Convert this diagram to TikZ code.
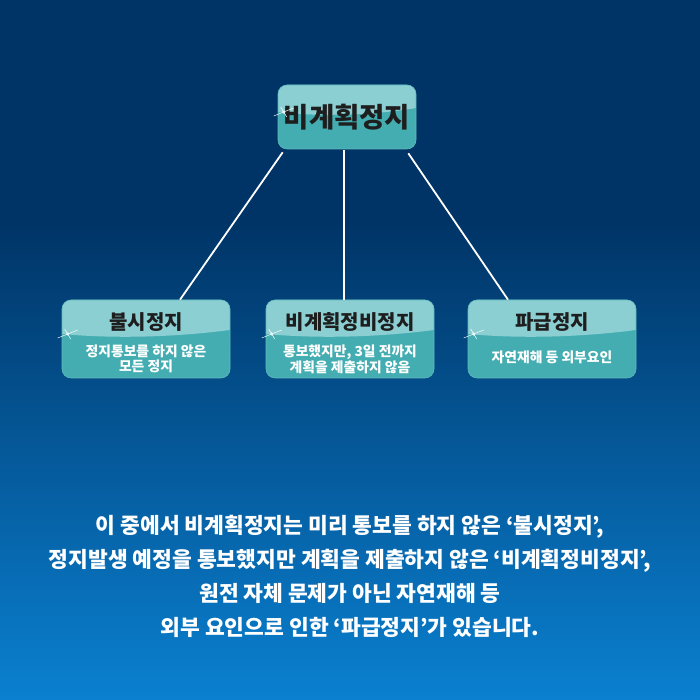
\documentclass[tikz,border=0pt]{standalone}
\usepackage{fontspec}
\setmainfont{Noto Sans CJK KR}
\usetikzlibrary{positioning}
\definecolor{bgtop}{RGB}{0,52,102}
\definecolor{bgmid}{RGB}{10,105,190}
\definecolor{bgbot}{RGB}{10,128,208}
\definecolor{boxlight}{RGB}{140,207,211}
\definecolor{boxdark}{RGB}{68,173,177}
\definecolor{titletext}{RGB}{30,30,30}

\begin{document}
\begin{tikzpicture}[x=1pt, y=1pt,
  box/.style={rounded corners=9pt, fill=boxdark, draw=boxdark!85!white, line width=0.6pt,
    minimum width=168pt, minimum height=78pt, inner sep=0pt,
    path picture={\fill[boxlight, sharp corners] (path picture bounding box.north west)
      -- ([yshift=5pt]path picture bounding box.west)
      .. controls ([xshift=-30pt]path picture bounding box.center)
         and ([xshift=30pt,yshift=2pt]path picture bounding box.center)
      .. ([yshift=9pt]path picture bounding box.east)
      -- (path picture bounding box.north east) -- cycle;}},
  head/.style={font=\fontsize{20}{22}\selectfont\bfseries, text=titletext, inner sep=0pt},
  sub/.style={font=\fontsize{13.8}{14.5}\selectfont\bfseries, text=white, align=center, inner sep=0pt},
  link/.style={white, line width=1.8pt},
]
  \fill[bgtop] (0,0) rectangle (700,700);
  \shade[bottom color=bgbot, middle color=bgmid, top color=bgtop] (0,0) rectangle (700,480);
  \useasboundingbox (0,0) rectangle (700,700);

  \node[box, minimum width=138pt, minimum height=64pt, text=titletext,
    font=\fontsize{27.5}{29}\selectfont\bfseries] (T) at (347,583) {비계획정지};

  \node[box] (A) at (146,361) {};
  \node[head] (A1) at ([yshift=-22pt]A.north) {불시정지};
  \node[sub] (A2) at ([yshift=-20pt]A.center) {정지통보를 하지 않은\\모든 정지};

  \node[box] (B) at (350,361) {};
  \node[head] (B1) at ([yshift=-22pt]B.north) {비계획정비정지};
  \node[sub] (B2) at ([yshift=-20pt]B.center) {통보했지만, 3일 전까지\\계획을 제출하지 않음};

  \node[box] (C) at (552,361) {};
  \node[head] (C1) at ([yshift=-22pt]C.north) {파급정지};
  \node[sub] (C2) at ([yshift=-18pt]C.center) {자연재해 등 외부요인};

  \foreach \n in {T,A,B,C} {
    \coordinate (g\n) at ([xshift=6pt,yshift=5pt]\n.west);
    \fill[white, opacity=0.6] (g\n) circle (1.8pt);
    \draw[white, line width=0.5pt] ([shift={(-10pt,-4pt)}]g\n) -- ([shift={(10pt,4pt)}]g\n)
      ([shift={(-3pt,5pt)}]g\n) -- ([shift={(3pt,-5pt)}]g\n);
  }

  \draw[link] ([xshift=5pt,yshift=-3pt]T.south west) -- ([xshift=34pt]A.north);
  \draw[link] ([xshift=-3pt,yshift=-1pt]T.south) -- ([xshift=-6pt]B.north);
  \draw[link] ([xshift=-8pt,yshift=-4pt]T.south east) -- ([xshift=-44pt]C.north);

  \node[font=\fontsize{21.5}{34}\selectfont\bfseries, text=white, align=center] (note) at (350,124)
    {이 중에서 비계획정지는 미리 통보를 하지 않은 ‘불시정지’,\\
     정지발생 예정을 통보했지만 계획을 제출하지 않은 ‘비계획정비정지’,\\
     원전 자체 문제가 아닌 자연재해 등\\
     외부 요인으로 인한 ‘파급정지’가 있습니다.};
\end{tikzpicture}
\end{document}
